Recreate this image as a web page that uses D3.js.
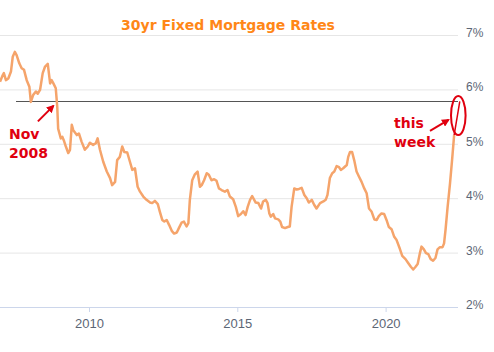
<!DOCTYPE html>
<html>
<head>
<meta charset="utf-8">
<script src="https://cdn.jsdelivr.net/npm/d3@7"></script>
<style>
  body { margin: 0; background: #fff; }
  svg { display: block; font-family: "DejaVu Sans", Verdana, sans-serif; }
</style>
</head>
<body>
<div id="chart"></div>
<script>
// weekly-ish samples (decimal year, percent)
const years = [
  2007.00, 2007.09, 2007.13, 2007.20, 2007.28, 2007.37, 2007.43, 2007.50, 2007.56, 2007.65,
  2007.73, 2007.81, 2007.90, 2007.99, 2008.04, 2008.12, 2008.21, 2008.27, 2008.35, 2008.44,
  2008.52, 2008.61, 2008.69, 2008.74, 2008.80, 2008.88, 2008.93, 2008.96, 2009.05, 2009.10,
  2009.16, 2009.22, 2009.30, 2009.36, 2009.42, 2009.47, 2009.59, 2009.66, 2009.75, 2009.86,
  2009.96, 2010.03, 2010.14, 2010.23, 2010.29, 2010.37, 2010.48, 2010.60, 2010.71, 2010.78,
  2010.88, 2010.95, 2011.04, 2011.12, 2011.19, 2011.29, 2011.38, 2011.46, 2011.55, 2011.64,
  2011.72, 2011.83, 2011.94, 2012.06, 2012.13, 2012.22, 2012.32, 2012.39, 2012.47, 2012.54,
  2012.62, 2012.70, 2012.79, 2012.87, 2012.96, 2013.03, 2013.12, 2013.20, 2013.29, 2013.35,
  2013.40, 2013.48, 2013.57, 2013.66, 2013.74, 2013.80, 2013.88, 2013.97, 2014.04, 2014.13,
  2014.22, 2014.30, 2014.38, 2014.47, 2014.58, 2014.67, 2014.75, 2014.86, 2014.95, 2015.03,
  2015.12, 2015.20, 2015.28, 2015.35, 2015.43, 2015.50, 2015.57, 2015.62, 2015.71, 2015.80,
  2015.87, 2015.96, 2016.02, 2016.08, 2016.13, 2016.21, 2016.27, 2016.38, 2016.45, 2016.51,
  2016.61, 2016.70, 2016.77, 2016.83, 2016.92, 2017.00, 2017.08, 2017.17, 2017.26, 2017.34,
  2017.41, 2017.51, 2017.59, 2017.67, 2017.79, 2017.90, 2017.98, 2018.04, 2018.12, 2018.20,
  2018.27, 2018.35, 2018.43, 2018.49, 2018.57, 2018.69, 2018.74, 2018.80, 2018.87, 2018.94,
  2019.02, 2019.10, 2019.19, 2019.28, 2019.36, 2019.44, 2019.53, 2019.62, 2019.70, 2019.77,
  2019.86, 2019.95, 2020.03, 2020.11, 2020.20, 2020.29, 2020.37, 2020.48, 2020.56, 2020.67,
  2020.76, 2020.85, 2020.93, 2021.01, 2021.08, 2021.16, 2021.21, 2021.29, 2021.36, 2021.44,
  2021.52, 2021.60, 2021.68, 2021.75, 2021.83, 2021.92, 2021.97, 2022.02, 2022.09, 2022.17,
  2022.24, 2022.31
];
const rates = [
  6.14, 6.26, 6.30, 6.17, 6.20, 6.33, 6.60, 6.69, 6.63, 6.48,
  6.39, 6.36, 6.17, 6.05, 5.77, 5.90, 5.96, 5.92, 5.99, 6.30,
  6.42, 6.47, 6.11, 6.17, 6.11, 6.02, 5.68, 5.28, 5.10, 5.13,
  5.05, 4.95, 4.83, 4.89, 5.35, 5.25, 5.16, 5.19, 5.04, 4.89,
  4.95, 5.02, 4.98, 5.01, 5.10, 4.89, 4.67, 4.49, 4.37, 4.24,
  4.30, 4.70, 4.76, 4.95, 4.85, 4.84, 4.67, 4.52, 4.55, 4.21,
  4.12, 4.03, 3.97, 3.92, 3.91, 3.95, 3.89, 3.75, 3.60, 3.57,
  3.60, 3.51, 3.40, 3.35, 3.37, 3.45, 3.55, 3.57, 3.48, 3.54,
  3.97, 4.33, 4.44, 4.49, 4.21, 4.24, 4.33, 4.46, 4.43, 4.33,
  4.35, 4.32, 4.18, 4.15, 4.12, 4.15, 4.03, 3.98, 3.84, 3.67,
  3.71, 3.76, 3.69, 3.84, 3.97, 4.04, 3.97, 3.92, 3.91, 3.81,
  3.94, 3.97, 3.91, 3.72, 3.66, 3.71, 3.63, 3.61, 3.57, 3.47,
  3.45, 3.47, 3.48, 3.84, 4.18, 4.16, 4.17, 4.19, 4.06, 4.00,
  3.92, 3.97, 3.88, 3.81, 3.91, 3.94, 3.97, 4.06, 4.37, 4.46,
  4.49, 4.59, 4.57, 4.52, 4.55, 4.61, 4.76, 4.85, 4.85, 4.70,
  4.49, 4.40, 4.30, 4.18, 4.09, 3.81, 3.75, 3.61, 3.60, 3.67,
  3.72, 3.71, 3.60, 3.47, 3.43, 3.29, 3.23, 3.07, 2.94, 2.88,
  2.81, 2.74, 2.69, 2.74, 2.79, 3.00, 3.11, 3.06, 2.99, 2.97,
  2.88, 2.85, 2.90, 3.06, 3.10, 3.10, 3.17, 3.42, 3.84, 4.27,
  4.70, 5.16
];
const thisWeek = { year: 2022.50, rate: 5.78 };
const nov2008 = 2008.80;
const refLineStart = 2007.54;

const yTicks = [2, 3, 4, 5, 6, 7];
const xTicks = [2010, 2015, 2020];

const width = 494, height = 352;
const plotRight = 458, plotTop = 35, plotBottom = 307;

const svg = d3.select("#chart").append("svg")
  .attr("width", width)
  .attr("height", height);

const x = d3.scaleLinear().domain([2007, 2022.44]).range([0, plotRight]);
const y = d3.scaleLinear().domain([2, 7]).range([plotBottom, plotTop]);

// gridlines + right labels
const yAxis = svg.append("g")
  .attr("transform", `translate(${plotRight},0)`)
  .call(d3.axisRight(y).tickValues(yTicks).tickSize(-plotRight).tickPadding(8).tickFormat(d => d + "%"));
yAxis.select(".domain").remove();
yAxis.selectAll("line").attr("stroke", "#e6e6e6");
yAxis.selectAll("text")
  .attr("fill", "#5c6675")
  .attr("dy", "0.12em")
  .style("font-size", "12px");

// x axis
const xAxis = svg.append("g")
  .attr("transform", `translate(0,${plotBottom})`)
  .call(d3.axisBottom(x).tickValues(xTicks).tickSize(5).tickPadding(7).tickFormat(d3.format("d")));
xAxis.select(".domain").attr("stroke", "#ccd6eb").attr("d", `M0,0.5H${plotRight}`);
xAxis.selectAll("line").attr("stroke", "#ccd6eb");
xAxis.selectAll("text")
  .attr("fill", "#5c6675")
  .style("font-size", "13px");

// title
svg.append("text")
  .attr("x", 228)
  .attr("y", 30)
  .attr("text-anchor", "middle")
  .attr("fill", "#ff8717")
  .style("font-size", "14px")
  .style("font-weight", "bold")
  .text("30yr Fixed Mortgage Rates");

// reference level (this week's rate)
svg.append("line")
  .attr("x1", x(refLineStart))
  .attr("x2", plotRight)
  .attr("y1", Math.round(y(thisWeek.rate)) + 0.5)
  .attr("y2", Math.round(y(thisWeek.rate)) + 0.5)
  .attr("stroke", "#555")
  .attr("stroke-width", 1);

const data = years.map((d, i) => ({ year: d, rate: rates[i] }));

const line = d3.line()
  .x(d => x(d.year))
  .y(d => y(d.rate));

svg.append("path")
  .datum(data)
  .attr("fill", "none")
  .attr("stroke", "#f5a46b")
  .attr("stroke-width", 2.5)
  .attr("stroke-linejoin", "round")
  .attr("d", line);

// last jump highlighted in red
const red = "#e0000f";
svg.append("path")
  .datum([data[data.length - 1], thisWeek])
  .attr("fill", "none")
  .attr("stroke", red)
  .attr("stroke-width", 1.5)
  .attr("d", line);

svg.append("ellipse")
  .attr("cx", x(2022.45))
  .attr("cy", y(5.52))
  .attr("rx", 7.3)
  .attr("ry", 19.5)
  .attr("fill", "none")
  .attr("stroke", red)
  .attr("stroke-width", 2);

// arrowheads
svg.append("defs").append("marker")
  .attr("id", "arrow")
  .attr("viewBox", "0 0 10 10")
  .attr("refX", 8)
  .attr("refY", 5)
  .attr("markerWidth", 4)
  .attr("markerHeight", 4)
  .attr("orient", "auto")
  .append("path")
  .attr("d", "M0,0L10,5L0,10Z")
  .attr("fill", red);

function arrow(x1, y1, x2, y2) {
  svg.append("line")
    .attr("x1", x1).attr("y1", y1)
    .attr("x2", x2).attr("y2", y2)
    .attr("stroke", red)
    .attr("stroke-width", 2)
    .attr("marker-end", "url(#arrow)");
}

const refY = y(thisWeek.rate);
arrow(x(nov2008) - 15.5, refY + 20, x(nov2008), refY + 4.5);
arrow(430, refY + 29.5, 448.5, refY + 18.5);

function label(lines, lx, ly) {
  const t = svg.append("text")
    .attr("fill", red)
    .style("font-size", "14px")
    .style("font-weight", "bold");
  lines.forEach((s, i) => {
    t.append("tspan").attr("x", lx).attr("y", ly + i * 18.5).text(s);
  });
}
label(["Nov", "2008"], 9, 139);
label(["this", "week"], 394, 128.3);
</script>
</body>
</html>
